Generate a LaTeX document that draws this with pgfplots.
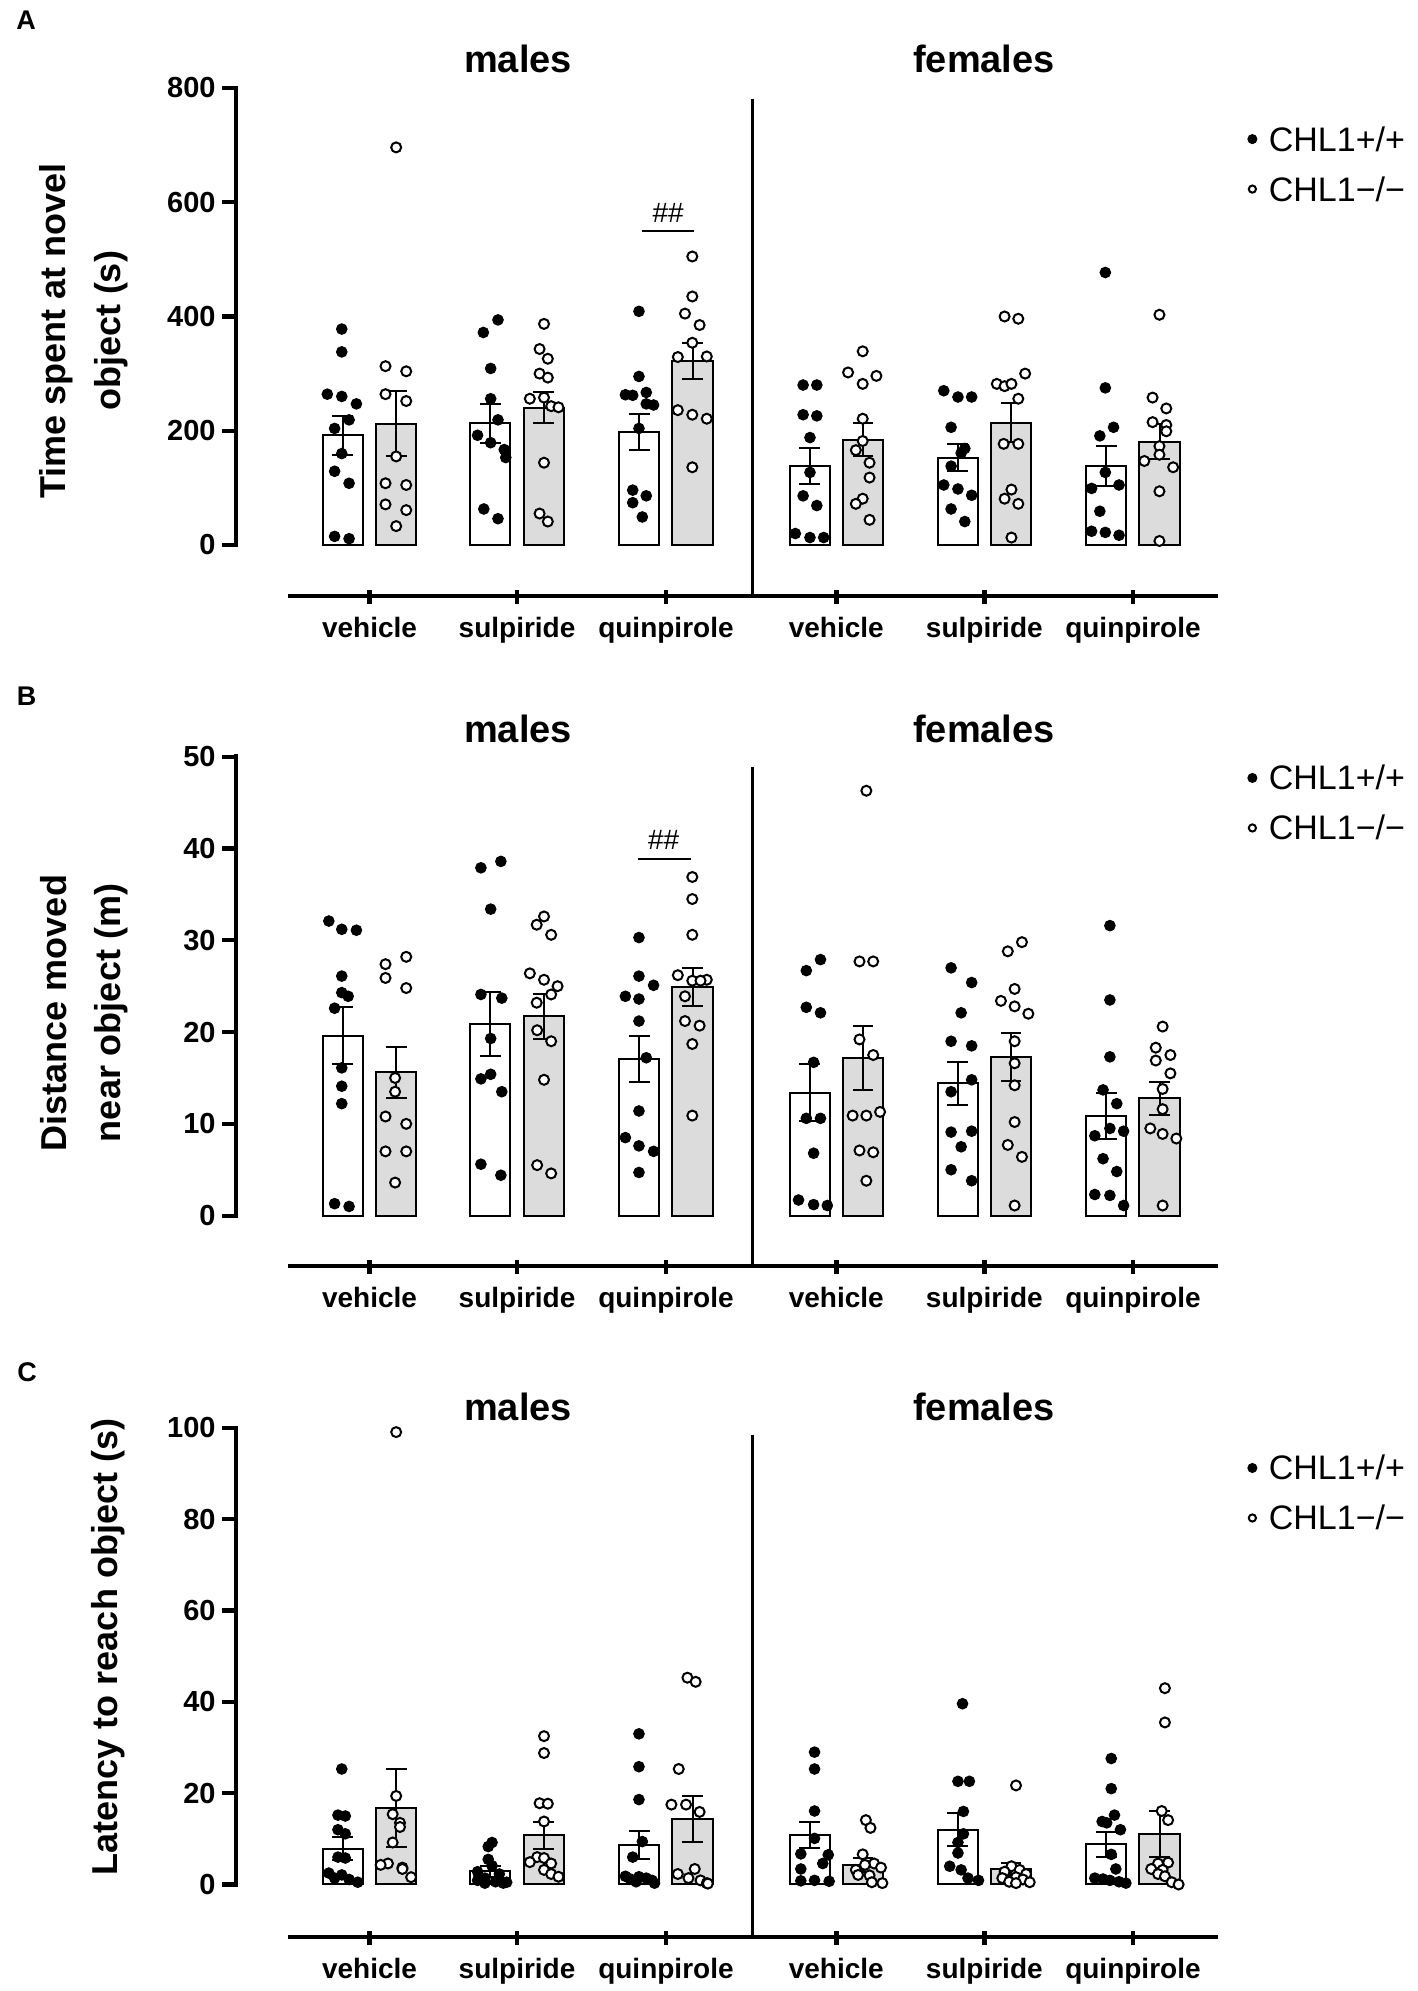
\documentclass[border=0pt]{standalone}
\usepackage{pgfplots}
\pgfplotsset{compat=1.18}
\usepackage{fontspec}
\setmainfont{Liberation Sans}
\definecolor{barg}{RGB}{220,220,220}
\pgfplotsset{
  panel/.style={
    scale only axis, width=491.2pt,
    xmin=0.114, xmax=6.56,
    clip=false,
    axis x line*=bottom, axis y line*=left,
    axis line style={draw=none},
    tick align=outside, major tick length=7pt,
    xtick={0.99,1.958,2.935,4.053,5.024,5.999},
    xticklabels={vehicle,sulpiride,quinpirole,vehicle,sulpiride,quinpirole},
    xtick style={line width=2.4pt,black,yshift=3pt},
    ytick style={line width=2.1pt,black},
    xticklabel style={font=\fontsize{14}{16}\selectfont\bfseries},
    yticklabel style={font=\fontsize{14.5}{16}\selectfont\bfseries, inner sep=3pt},
    /pgf/number format/assume math mode=true,
    legend style={draw=none, fill=none, inner sep=0pt, outer sep=0pt, anchor=north west,
      font=\fontsize{17}{19}\selectfont, row sep=13pt,
      nodes={inner sep=0pt, text height=12pt, text depth=0pt},
      /tikz/every odd column/.append style={column sep=6pt}},
    legend cell align=left,
  },
  wt/.style={only marks, mark=*, mark size=2.65pt, color=black, line width=0.5pt,
    mark options={fill=black,draw=black},
    legend image code/.code={\draw[##1,mark size=2.25pt] plot coordinates {(0pt,0pt)};}},
  ko/.style={only marks, mark=*, mark size=2.5pt, color=black, line width=1pt,
    mark options={fill=white,draw=black},
    legend image code/.code={\draw[##1,mark size=1.8pt] plot coordinates {(0pt,0pt)};}},
  bw/.style={ybar, bar width=0.264, bar shift=0pt, fill=white, draw=black, line width=1pt, forget plot,
    error bars/y dir=both, error bars/y explicit,
    error bars/error bar style={line width=1pt,black},
    error bars/error mark options={rotate=90,line width=1pt,black,mark size=5.2pt}},
  bg/.style={ybar, bar width=0.264, bar shift=0pt, fill=barg, draw=black, line width=1pt, forget plot,
    error bars/y dir=both, error bars/y explicit,
    error bars/error bar style={line width=1pt,black},
    error bars/error mark options={rotate=90,line width=1pt,black,mark size=5.2pt}},
}
\begin{document}
\begin{tikzpicture}
\useasboundingbox (0,0) rectangle (709pt,995.5pt);
% ---------------- Panel A ----------------
\begin{axis}[panel, at={(118pt,697.5pt)}, anchor=south west, height=254pt,
  ymin=-89.3, ymax=800, ytick={0,200,400,600,800},
  legend style={at={(1.030,0.923)}}]
\addplot[bw] coordinates {(0.815,192) +- (0,34) (1.783,213) +- (0,34) (2.760,198) +- (0,31)
  (3.878,138) +- (0,32) (4.849,153) +- (0,23) (5.824,138) +- (0,35)};
\addplot[bg] coordinates {(1.165,212) +- (0,57) (2.133,240) +- (0,27) (3.110,322) +- (0,31)
  (4.228,184) +- (0,29) (5.199,214) +- (0,34) (6.174,181) +- (0,30)};
\addplot[wt] coordinates {
(0.808,378) (0.808,338) (0.713,264) (0.808,260) (0.904,247) (0.856,219) (0.761,204) (0.808,160) (0.761,129) (0.856,108) (0.761,15) (0.856,11)
(1.833,394) (1.737,372) (1.785,309) (1.785,256) (1.833,219) (1.699,192) (1.785,179) (1.874,167) (1.884,153) (1.740,63) (1.833,46)
(2.758,409) (2.758,295) (2.669,263) (2.717,262) (2.806,267) (2.806,247) (2.854,245) (2.758,204) (2.717,96) (2.806,86) (2.717,74) (2.780,49)
(3.835,280) (3.925,280) (3.835,228) (3.925,226) (3.880,188) (3.880,127) (3.835,86) (3.925,69) (3.784,20) (3.880,13) (3.970,13)
(4.758,270) (4.851,259) (4.941,259) (4.806,206) (4.896,169) (4.872,161) (4.806,138) (4.758,105) (4.851,98) (4.941,87) (4.806,63) (4.896,41)
(5.818,477) (5.818,275) (5.872,206) (5.782,191) (5.818,127) (5.728,99) (5.908,105) (5.782,59) (5.728,24) (5.818,22) (5.908,17)};
\addlegendentry{CHL1+/+}
\addplot[ko] coordinates {
(1.165,696) (1.095,313) (1.231,304) (1.095,264) (1.231,252) (1.165,155) (1.095,108) (1.231,105) (1.095,71) (1.231,61) (1.165,33)
(2.135,387) (2.106,343) (2.160,326) (2.106,300) (2.160,293) (2.042,256) (2.135,258) (2.182,243) (2.230,241) (2.135,144) (2.106,55) (2.160,41)
(3.108,505) (3.108,435) (3.060,405) (3.156,385) (3.108,354) (3.013,329) (3.203,330) (3.013,236) (3.108,228) (3.203,221) (3.108,136)
(4.226,339) (4.130,302) (4.316,296) (4.226,282) (4.226,221) (4.226,182) (4.181,166) (4.271,144) (4.271,118) (4.226,81) (4.181,72) (4.271,44)
(5.157,400) (5.247,396) (5.292,300) (5.106,282) (5.157,278) (5.202,282) (5.247,256) (5.151,177) (5.247,177) (5.202,97) (5.157,81) (5.247,72) (5.202,13)
(6.173,403) (6.128,258) (6.218,239) (6.128,215) (6.218,210) (6.218,199) (6.173,173) (6.074,147) (6.173,158) (6.263,136) (6.173,94) (6.173,7)};
\addlegendentry{CHL1−/−}
\draw[line width=2.4pt,line cap=rect] (axis cs:0.114,0) -- (axis cs:0.114,800);
\draw[line width=2.1pt] (axis cs:0.458,-89.3) -- (axis cs:6.56,-89.3);
\draw[line width=1.45pt] (axis cs:3.50,781) -- (axis cs:3.50,-89.3);
\draw[line width=1.1pt] (axis cs:2.78,550) -- (axis cs:3.12,550);
\node[font=\fontsize{14}{16}\selectfont] at (axis cs:2.95,582) {\#\#};
\end{axis}
% ---------------- Panel B ----------------
\begin{axis}[panel, at={(118pt,362.5pt)}, anchor=south west, height=254.6pt,
  ymin=-5.49, ymax=50, ytick={0,10,20,30,40,50},
  legend style={at={(1.030,0.982)}}]
\addplot[bw] coordinates {(0.815,19.6) +- (0,3.1) (1.783,20.9) +- (0,3.5) (2.760,17.1) +- (0,2.5)
  (3.878,13.4) +- (0,3.1) (4.849,14.4) +- (0,2.3) (5.824,10.9) +- (0,2.5)};
\addplot[bg] coordinates {(1.165,15.6) +- (0,2.8) (2.133,21.7) +- (0,2.5) (3.110,24.9) +- (0,2.1)
  (4.228,17.2) +- (0,3.5) (5.199,17.3) +- (0,2.6) (6.174,12.8) +- (0,1.8)};
\addplot[wt] coordinates {
(0.723,32.1) (0.808,31.2) (0.904,31.1) (0.808,26.1) (0.808,24.3) (0.850,23.9) (0.761,22.6) (0.808,16.1) (0.808,14.1) (0.808,12.2) (0.761,1.3) (0.856,1.0)
(1.721,37.9) (1.852,38.6) (1.785,33.4) (1.721,24.1) (1.858,23.7) (1.785,19.3) (1.785,15.4) (1.721,14.9) (1.858,13.5) (1.721,5.6) (1.852,4.4)
(2.758,30.3) (2.758,26.1) (2.854,25.1) (2.669,23.9) (2.758,23.6) (2.758,21.2) (2.806,17.2) (2.758,11.4) (2.669,8.5) (2.758,7.6) (2.854,7.0) (2.758,4.7)
(3.856,26.7) (3.949,27.9) (3.856,22.7) (3.949,22.1) (3.904,16.7) (3.856,10.6) (3.949,10.6) (3.904,6.8) (3.805,1.7) (3.904,1.2) (3.994,1.1)
(4.806,27.0) (4.941,25.4) (4.872,22.1) (4.806,19.0) (4.941,18.5) (4.941,14.8) (4.806,13.5) (4.806,9.1) (4.941,9.2) (4.872,7.5) (4.806,5.0) (4.941,3.8)
(5.848,31.6) (5.848,23.5) (5.848,17.3) (5.803,13.7) (5.893,12.2) (5.848,9.5) (5.938,9.2) (5.749,8.7) (5.803,6.2) (5.893,4.8) (5.749,2.3) (5.848,2.2) (5.938,1.1)};
\addlegendentry{CHL1+/+}
\addplot[ko] coordinates {
(1.231,28.2) (1.095,27.4) (1.095,25.9) (1.231,24.8) (1.158,15.0) (1.158,13.5) (1.095,10.8) (1.231,10.0) (1.095,7.0) (1.231,7.0) (1.158,3.6)
(2.135,32.6) (2.087,31.7) (2.182,30.6) (2.042,26.4) (2.135,25.7) (2.224,25.0) (2.182,24.1) (2.087,23.2) (2.090,20.2) (2.182,19.0) (2.135,14.8) (2.090,5.5) (2.182,4.6)
(3.108,36.9) (3.108,34.5) (3.108,30.6) (3.013,26.2) (3.108,25.6) (3.203,25.7) (3.162,25.6) (3.060,23.9) (3.060,21.2) (3.156,20.7) (3.108,18.7) (3.108,10.9)
(4.250,46.3) (4.205,27.7) (4.295,27.7) (4.205,19.2) (4.295,17.5) (4.160,10.9) (4.250,10.9) (4.340,11.3) (4.205,7.1) (4.295,6.9) (4.250,3.8)
(5.271,29.8) (5.178,28.8) (5.223,24.7) (5.133,23.4) (5.223,22.8) (5.313,22.0) (5.223,19.0) (5.223,16.6) (5.223,14.2) (5.223,10.2) (5.178,7.7) (5.271,6.4) (5.223,1.1)
(6.194,20.6) (6.149,18.3) (6.245,17.5) (6.149,16.9) (6.245,15.5) (6.194,13.8) (6.194,11.6) (6.113,9.5) (6.194,8.9) (6.284,8.4) (6.194,1.1)};
\addlegendentry{CHL1−/−}
\draw[line width=2.4pt,line cap=rect] (axis cs:0.114,0) -- (axis cs:0.114,50);
\draw[line width=2.1pt] (axis cs:0.458,-5.49) -- (axis cs:6.56,-5.49);
\draw[line width=1.45pt] (axis cs:3.50,48.9) -- (axis cs:3.50,-5.49);
\draw[line width=1.1pt] (axis cs:2.749,38.9) -- (axis cs:3.098,38.9);
\node[font=\fontsize{14}{16}\selectfont] at (axis cs:2.92,40.9) {\#\#};
\end{axis}
% ---------------- Panel C ----------------
\begin{axis}[panel, at={(118pt,27pt)}, anchor=south west, height=254.5pt,
  ymin=-11.5, ymax=100, ytick={0,20,40,60,80,100},
  legend style={at={(1.030,0.945)}}]
\addplot[bw] coordinates {(0.815,7.8) +- (0,2.5) (1.783,2.9) +- (0,1.2) (2.760,8.6) +- (0,3.1)
  (3.878,10.9) +- (0,2.9) (4.849,12.0) +- (0,3.6) (5.824,8.8) +- (0,2.7)};
\addplot[bg] coordinates {(1.165,16.8) +- (0,8.6) (2.133,10.8) +- (0,3.0) (3.110,14.3) +- (0,5.0)
  (4.228,4.3) +- (0,1.5) (5.199,3.4) +- (0,1.4) (6.174,11.1) +- (0,5.0)};
\addplot[wt] coordinates {
(0.808,25.3) (0.783,15.2) (0.831,15.0) (0.783,12.0) (0.831,11.1) (0.783,6.0) (0.831,5.8) (0.723,2.5) (0.808,2.1) (0.761,1.4) (0.856,1.1) (0.913,0.5)
(1.794,9.2) (1.769,8.3) (1.769,5.5) (1.794,4.1) (1.699,2.8) (1.842,2.3) (1.747,1.4) (1.699,0.9) (1.817,0.6) (1.890,0.5) (1.747,0.3) (1.868,0.3)
(2.758,33.0) (2.758,25.8) (2.758,18.6) (2.780,9.4) (2.717,6.0) (2.669,1.8) (2.758,1.7) (2.806,1.4) (2.701,1.2) (2.844,0.9) (2.739,0.6) (2.860,0.3)
(3.910,29.0) (3.910,25.3) (3.910,16.1) (3.910,10.1) (3.820,6.7) (4.000,6.5) (3.964,4.6) (3.820,3.4) (3.910,0.9) (4.006,0.7) (3.820,0.8)
(4.881,39.6) (4.851,22.6) (4.926,22.6) (4.887,16.0) (4.887,11.1) (4.851,9.2) (4.851,6.9) (4.797,4.0) (4.872,3.2) (4.917,1.4) (4.986,0.9)
(5.857,27.6) (5.857,21.0) (5.878,15.2) (5.797,13.8) (5.827,13.5) (5.917,12.0) (5.857,6.6) (5.887,3.4) (5.749,1.4) (5.803,1.2) (5.848,0.9) (5.908,0.6) (5.953,0.3)};
\addlegendentry{CHL1+/+}
\addplot[ko] coordinates {
(1.165,99.1) (1.165,19.4) (1.142,15.4) (1.190,13.5) (1.190,12.6) (1.142,9.2) (1.111,4.6) (1.063,4.3) (1.206,3.7) (1.206,3.4) (1.263,1.6)
(2.135,32.5) (2.135,28.8) (2.106,17.8) (2.160,17.7) (2.135,13.8) (2.090,6.0) (2.135,5.8) (2.042,4.9) (2.182,4.6) (2.135,3.2) (2.182,2.3) (2.230,1.7)
(3.076,45.3) (3.130,44.4) (3.019,25.3) (2.971,17.5) (3.067,17.5) (3.156,15.9) (3.124,3.4) (3.013,2.3) (3.083,1.4) (3.162,0.9) (3.203,0.3) (3.210,0.2)
(4.247,14.1) (4.277,12.4) (4.226,6.6) (4.301,4.6) (4.241,4.3) (4.346,3.7) (4.181,3.2) (4.271,2.0) (4.196,2.1) (4.286,0.5) (4.355,0.3)
(5.232,21.7) (5.202,4.0) (5.256,3.2) (5.157,2.8) (5.298,2.3) (5.232,1.6) (5.142,1.4) (5.277,1.1) (5.187,0.6) (5.322,0.5) (5.232,0.3)
(6.209,43.0) (6.209,35.5) (6.188,16.1) (6.230,14.1) (6.230,4.8) (6.164,4.6) (6.119,3.4) (6.194,3.2) (6.164,2.3) (6.209,1.8) (6.254,0.5) (6.299,0.0)};
\addlegendentry{CHL1−/−}
\draw[line width=2.4pt,line cap=rect] (axis cs:0.114,0) -- (axis cs:0.114,100);
\draw[line width=2.1pt] (axis cs:0.458,-11.5) -- (axis cs:6.56,-11.5);
\draw[line width=1.45pt] (axis cs:3.50,98.5) -- (axis cs:3.50,-11.5);
\end{axis}
% ---------------- texts ----------------
\begin{scope}[every node/.style={font=\bfseries\fontsize{13.5}{15}\selectfont}]
\node at (13pt,985.5pt) {A};
\node at (13.3pt,647.3pt) {B};
\node at (13.5pt,309.5pt) {C};
\end{scope}
\begin{scope}[every node/.style={font=\bfseries\fontsize{19}{21}\selectfont}]
\node at (259pt,966pt) {males};
\node at (492pt,966pt) {females};
\node at (259pt,631pt) {males};
\node at (492pt,631pt) {females};
\node at (259pt,292pt) {males};
\node at (492pt,292pt) {females};
\end{scope}
\begin{scope}[every node/.style={rotate=90,font=\bfseries\fontsize{18}{20}\selectfont}]
\node at (28pt,830pt) {Time spent at novel};
\node at (55.5pt,830pt) {object (s)};
\node at (27pt,489pt) {Distance moved};
\node at (55.5pt,489pt) {near object (m)};
\node at (54pt,172pt) {Latency to reach object (s)};
\end{scope}
\end{tikzpicture}
\end{document}
